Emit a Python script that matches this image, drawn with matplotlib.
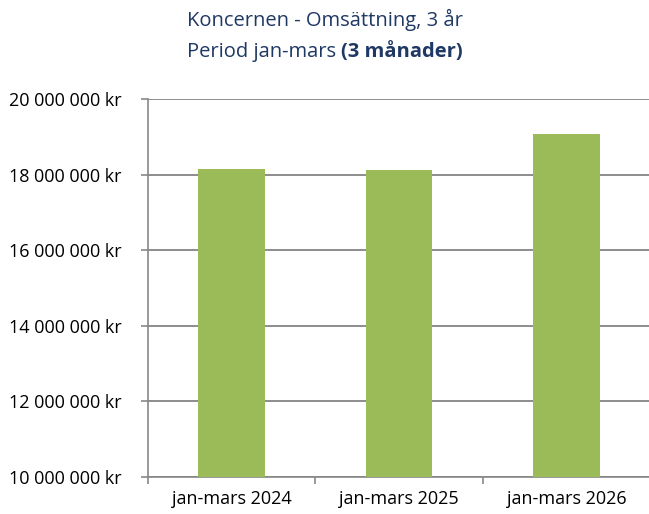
import matplotlib
matplotlib.use('Agg')
import matplotlib.pyplot as plt
import numpy as np

categories = ['jan-mars 2024', 'jan-mars 2025', 'jan-mars 2026']
revenue = [18150000, 18110000, 19070000]
yticks = [10000000, 12000000, 14000000, 16000000, 18000000, 20000000]

plt.rcParams['font.family'] = ['Open Sans', 'DejaVu Sans']

fig = plt.figure(figsize=(6.49, 5.14), dpi=100)
ax = fig.add_axes([148 / 649, 1 - 477 / 514, 502 / 649, 378 / 514])

x = np.arange(len(categories))
ax.bar(x, revenue, width=0.4, color='#9BBB59', zorder=3)

ax.set_xlim(-0.5, 2.5)
ax.set_ylim(10000000, 20000000)
ax.set_yticks(yticks)
ax.set_yticklabels([f'{v:,}'.replace(',', ' ') + ' kr' for v in yticks], fontsize=13)
ax.set_xticks(x)
ax.set_xticklabels(categories, fontsize=13)
ax.set_xticks([-0.5, 0.5, 1.5, 2.5], minor=True)
ax.tick_params(axis='x', which='major', length=0, pad=9)
ax.tick_params(axis='x', which='minor', length=5, color='#888888', width=1.2)
ax.tick_params(axis='y', length=5, color='#888888', width=1.2, pad=14)
ax.grid(axis='y', color='#8c8c8c', linewidth=1.4, zorder=0)
for s in ['top', 'right']:
    ax.spines[s].set_visible(False)
for s in ['left', 'bottom']:
    ax.spines[s].set_color('#888888')
    ax.spines[s].set_linewidth(1.2)

title_color = '#1F3864'
fig.text(325 / 649, 1 - 20 / 514, 'Koncernen - Omsättning, 3 år', ha='center', va='center',
         fontsize=14.5, color=title_color)
# second line: regular + bold part, centered together
r = fig.canvas.get_renderer()
t1 = fig.text(0, 1 - 52 / 514, 'Period jan-mars ', ha='left', va='center', fontsize=14.5, color=title_color)
t2 = fig.text(0, 1 - 52 / 514, '(3 månader)', ha='left', va='center', fontsize=14.5,
              color=title_color, fontweight='bold')
w1 = t1.get_window_extent(r).width
w2 = t2.get_window_extent(r).width
start = 325 - (w1 + w2) / 2
t1.set_x(start / 649)
t2.set_x((start + w1) / 649)

fig.savefig('out.png', dpi=100)
